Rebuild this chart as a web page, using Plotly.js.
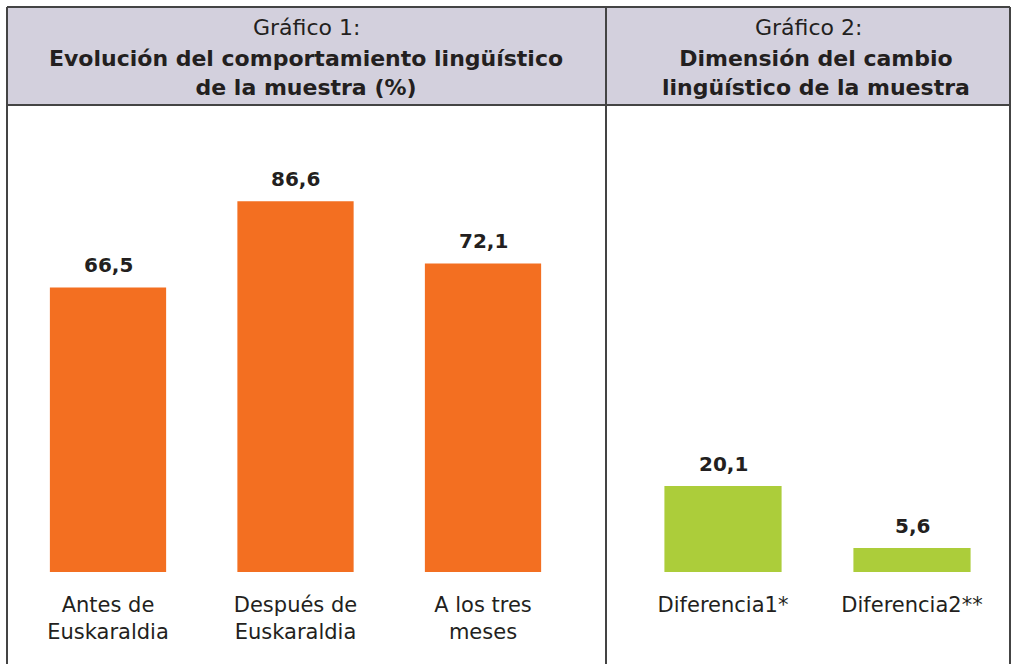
<!DOCTYPE html>
<html>
<head>
<meta charset="utf-8">
<script src="https://cdn.plot.ly/plotly-3.0.1.min.js"></script>
<style>html,body{margin:0;padding:0;background:#fff;}#chart{width:1012px;height:664px;}</style>
</head>
<body>
<div id="chart"></div>
<script>
// ---- data ----
const cats1 = ["Antes de<br>Euskaraldia", "Después de<br>Euskaraldia", "A los tres<br>meses"];
const vals1 = [66.5, 86.6, 72.1];
const cats2 = ["Diferencia1*", "Diferencia2**"];
const vals2 = [20.1, 5.6];
const title1a = "Gráfico 1:";
const title1b = "Evolución del comportamiento lingüístico<br>de la muestra (%)";
const title2a = "Gráfico 2:";
const title2b = "Dimensión del cambio<br>lingüístico de la muestra";

// ---- layout helpers ----
const W = 1012, H = 664;
const px = x => x / W;
const py = y => 1 - y / H;
const FONT = "DejaVu Sans, sans-serif";
const TXT = "#231f20";
const ORANGE = "#f36f21";
const GREEN = "#accd3a";
const BORDER = "#444444";

const traces = [
  {type: "bar", x: cats1, y: vals1, xaxis: "x", yaxis: "y",
   marker: {color: ORANGE}, hoverinfo: "skip", showlegend: false},
  {type: "bar", x: cats2, y: vals2, xaxis: "x2", yaxis: "y2",
   marker: {color: GREEN}, hoverinfo: "skip", showlegend: false}
];

const fmt = v => v.toFixed(1).replace(".", ",");
const annotations = [];
cats1.forEach((c, i) => annotations.push({
  x: c, y: vals1[i], xref: "x", yref: "y", text: "<b>" + fmt(vals1[i]) + "</b>",
  showarrow: false, xanchor: "center", yanchor: "bottom", yshift: 8,
  font: {family: FONT, size: 20, color: TXT}
}));
cats2.forEach((c, i) => annotations.push({
  x: c, y: vals2[i], xref: "x2", yref: "y2", text: "<b>" + fmt(vals2[i]) + "</b>",
  showarrow: false, xanchor: "center", yanchor: "bottom", yshift: 8,
  font: {family: FONT, size: 20, color: TXT}
}));
// header titles
annotations.push(
  {x: px(306), y: py(28), xref: "paper", yref: "paper", text: title1a, showarrow: false,
   xanchor: "center", yanchor: "middle", font: {family: FONT, size: 22, color: TXT}},
  {x: px(306), y: py(73), xref: "paper", yref: "paper", text: "<b>" + title1b + "</b>", showarrow: false,
   xanchor: "center", yanchor: "middle", font: {family: FONT, size: 22, color: TXT}},
  {x: px(808), y: py(28), xref: "paper", yref: "paper", text: title2a, showarrow: false,
   xanchor: "center", yanchor: "middle", font: {family: FONT, size: 22, color: TXT}},
  {x: px(816), y: py(73), xref: "paper", yref: "paper", text: "<b>" + title2b + "</b>", showarrow: false,
   xanchor: "center", yanchor: "middle", font: {family: FONT, size: 22, color: TXT}}
);

const shapes = [
  {type: "rect", xref: "paper", yref: "paper", x0: px(7), x1: px(1010), y0: py(7), y1: py(105),
   fillcolor: "#d3d0dd", line: {width: 0}, layer: "below"},
  {type: "line", xref: "paper", yref: "paper", x0: px(7), x1: px(1010), y0: py(7), y1: py(7), line: {color: BORDER, width: 2}},
  {type: "line", xref: "paper", yref: "paper", x0: px(7), x1: px(1010), y0: py(105), y1: py(105), line: {color: BORDER, width: 2}},
  {type: "line", xref: "paper", yref: "paper", x0: px(7), x1: px(7), y0: py(7), y1: py(670), line: {color: BORDER, width: 2}},
  {type: "line", xref: "paper", yref: "paper", x0: px(606), x1: px(606), y0: py(7), y1: py(670), line: {color: BORDER, width: 2}},
  {type: "line", xref: "paper", yref: "paper", x0: px(1010), x1: px(1010), y0: py(7), y1: py(670), line: {color: BORDER, width: 2}}
];

const yDom = [py(572), py(572 - 428)];
const hiddenY = {range: [0, 100], domain: yDom, showgrid: false, zeroline: false,
  showticklabels: false, showline: false, fixedrange: true};
const xCommon = {showgrid: false, zeroline: false, showline: false, ticks: "",
  ticklabelstandoff: 18, tickfont: {family: FONT, size: 21, color: TXT}, fixedrange: true};

const layout = {
  width: W, height: H,
  margin: {l: 0, r: 0, t: 0, b: 0},
  paper_bgcolor: "#ffffff", plot_bgcolor: "rgba(0,0,0,0)",
  bargap: 0.38,
  showlegend: false,
  xaxis: Object.assign({}, xCommon, {domain: [px(14.25), px(576.75)], anchor: "y"}),
  yaxis: Object.assign({}, hiddenY, {anchor: "x"}),
  xaxis2: Object.assign({}, xCommon, {domain: [px(628.5), px(1006.5)], anchor: "y2"}),
  yaxis2: Object.assign({}, hiddenY, {anchor: "x2"}),
  annotations: annotations,
  shapes: shapes,
  font: {family: FONT, color: TXT}
};

Plotly.newPlot("chart", traces, layout, {displayModeBar: false, staticPlot: true});
</script>
</body>
</html>
